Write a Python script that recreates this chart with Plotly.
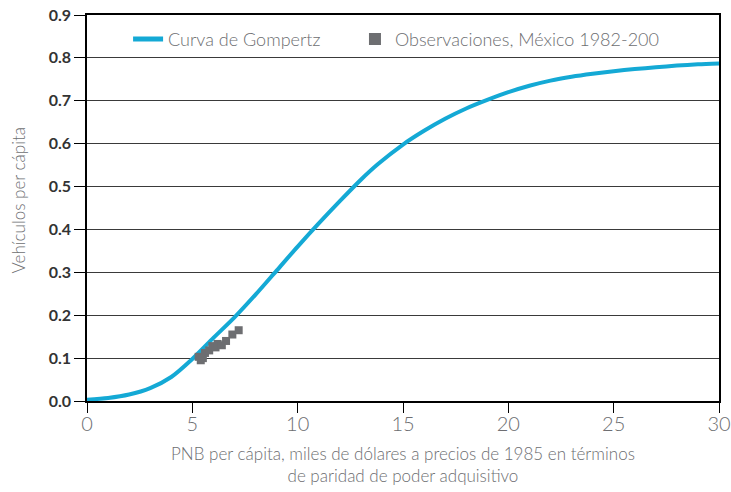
import plotly.graph_objects as go

# Gompertz curve: GDP per capita (thousand 1985 PPP dollars) vs vehicles per capita
curve_x = [0, 1, 2, 3, 4, 5, 6, 7, 8, 9, 10, 11, 12, 13, 13.8, 15, 16, 17, 18, 19,
           20, 21, 22, 23, 24, 25, 26, 27, 28, 29, 30]
curve_y = [0.003, 0.007, 0.015, 0.030, 0.056, 0.098, 0.147, 0.195, 0.248, 0.304,
           0.360, 0.414, 0.466, 0.516, 0.552, 0.598, 0.630, 0.658, 0.682, 0.702,
           0.720, 0.735, 0.747, 0.756, 0.763, 0.769, 0.774, 0.778, 0.782, 0.785,
           0.787]

# Observations for Mexico
obs_x = [5.3, 5.4, 5.5, 5.6, 5.8, 5.95, 6.1, 6.2, 6.4, 6.6, 6.9, 7.2]
obs_y = [0.103, 0.095, 0.100, 0.112, 0.118, 0.128, 0.125, 0.133, 0.130, 0.140,
         0.155, 0.165]

y_ticks = [0.0, 0.1, 0.2, 0.3, 0.4, 0.5, 0.6, 0.7, 0.8, 0.9]
x_ticks = [0, 5, 10, 15, 20, 25, 30]

x_title = "PNB per cápita, miles de dólares a precios de 1985 en términos<br>de paridad de poder adquisitivo"
y_title = "Vehículos per cápita"

CYAN = "#14a9d5"
GREY = "#6d6e71"
TEXT = "#6d6e71"

fig = go.Figure()
fig.add_trace(go.Scatter(
    x=curve_x, y=curve_y, mode="lines", name="Curva de Gompertz",
    line=dict(color=CYAN, width=4, shape="spline", smoothing=0.8),
    legend="legend",
))
fig.add_trace(go.Scatter(
    x=obs_x, y=obs_y, mode="markers", name="Observaciones, México 1982-200",
    marker=dict(symbol="square", size=8, color=GREY, line=dict(width=0)),
    legend="legend2",
))

legend_common = dict(
    orientation="h", xanchor="left", y=0.985, yanchor="top",
    bgcolor="rgba(255,255,255,0)", font=dict(size=18, color=TEXT, weight=300),
    itemwidth=30, itemsizing="constant",
)

fig.update_layout(
    width=731, height=492,
    margin=dict(l=87, r=12, t=15, b=91),
    paper_bgcolor="white", plot_bgcolor="white",
    font=dict(family="Lato", size=16, color=TEXT, weight=300),
    showlegend=True,
    legend=dict(x=0.065, **legend_common),
    legend2=dict(x=0.424, **legend_common),
    xaxis=dict(
        range=[0, 30], tickvals=x_ticks, ticktext=[str(v) for v in x_ticks],
        showgrid=False, zeroline=False, automargin=False,
        ticklabeloverflow="allow", ticklabelstandoff=-6,
        showline=True, linecolor="black", linewidth=1.5, mirror=True,
        ticks="outside", ticklen=10, tickcolor="black", tickwidth=1,
        tickfont=dict(size=20, color=TEXT, weight=300),
    ),
    yaxis=dict(
        range=[0, 0.9], tickvals=y_ticks, ticktext=[f"{v:.1f}" for v in y_ticks],
        showgrid=True, gridcolor="#3a3a3a", gridwidth=1, zeroline=False,
        automargin=False, ticklabeloverflow="allow",
        showline=True, linecolor="black", linewidth=1.5, mirror=True,
        ticks="outside", ticklen=11, tickcolor="black", tickwidth=1,
        tickfont=dict(size=16, color="#333333", weight=700),
    ),
    annotations=[
        dict(text=x_title, xref="paper", yref="paper", x=0.5, y=-0.165,
             xanchor="center", yanchor="middle", showarrow=False,
             font=dict(size=17, color=TEXT, weight=300)),
        dict(text=y_title, xref="paper", yref="paper", x=-0.109, y=0.52,
             xanchor="center", yanchor="middle", textangle=-90, showarrow=False,
             font=dict(size=17, color=TEXT, weight=300)),
    ],
)

fig.write_html("out.html")
